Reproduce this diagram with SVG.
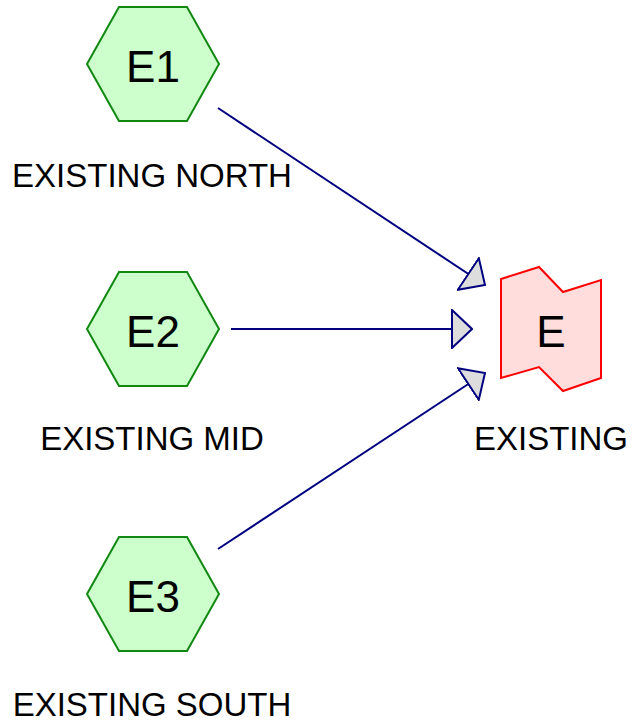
<svg xmlns="http://www.w3.org/2000/svg" width="633" height="727" viewBox="0 0 633 727">
<style>
.hex{fill:#ccffcc;stroke:#118811;stroke-width:2}
.ex{fill:#ffdddd;stroke:#ff0000;stroke-width:2}
.edge{stroke:#000080;stroke-width:2;fill:none}
.big{font-family:"Liberation Sans",Arial,sans-serif;font-size:44px;fill:#000;text-anchor:middle}
.lbl{font-family:"Liberation Sans",Arial,sans-serif;font-size:33px;fill:#000;text-anchor:middle}
</style>
<defs>
<marker id="arr" markerUnits="userSpaceOnUse" viewBox="-1 -1 22 40" refX="20" refY="19" markerWidth="22" markerHeight="40" orient="auto">
<path d="M0,0 L20,19 L0,38 Z" fill="#dddddd" stroke="#000080" stroke-width="2" stroke-linejoin="miter"/>
</marker>
</defs>
<rect width="633" height="727" fill="#ffffff"/>
<g id="connectors">
<line class="edge" x1="218" y1="108" x2="485" y2="285" marker-end="url(#arr)"/>
<line class="edge" x1="231" y1="329" x2="472" y2="329" marker-end="url(#arr)"/>
<line class="edge" x1="218" y1="549" x2="485" y2="373" marker-end="url(#arr)"/>
</g>
<g id="E1">
<polygon class="hex" points="87,64 119,7 187,7 219,64 187,121 119,121"/>
<text class="big" x="153" y="82">E1</text>
<text class="lbl" x="152" y="187">EXISTING NORTH</text>
</g>
<g id="E2">
<polygon class="hex" points="87,329 119,272 187,272 219,329 187,386 119,386"/>
<text class="big" x="153" y="347">E2</text>
<text class="lbl" x="152" y="450">EXISTING MID</text>
</g>
<g id="E3">
<polygon class="hex" points="87,594 119,537 187,537 219,594 187,651 119,651"/>
<text class="big" x="153" y="612">E3</text>
<text class="lbl" x="152" y="716">EXISTING SOUTH</text>
</g>
<g id="E">
<polygon class="ex" points="501,279 539,267 563,292 601,280 601,378 563,391 539,367 501,378"/>
<text class="big" x="551" y="347">E</text>
<text class="lbl" x="551" y="450">EXISTING</text>
</g>
</svg>
